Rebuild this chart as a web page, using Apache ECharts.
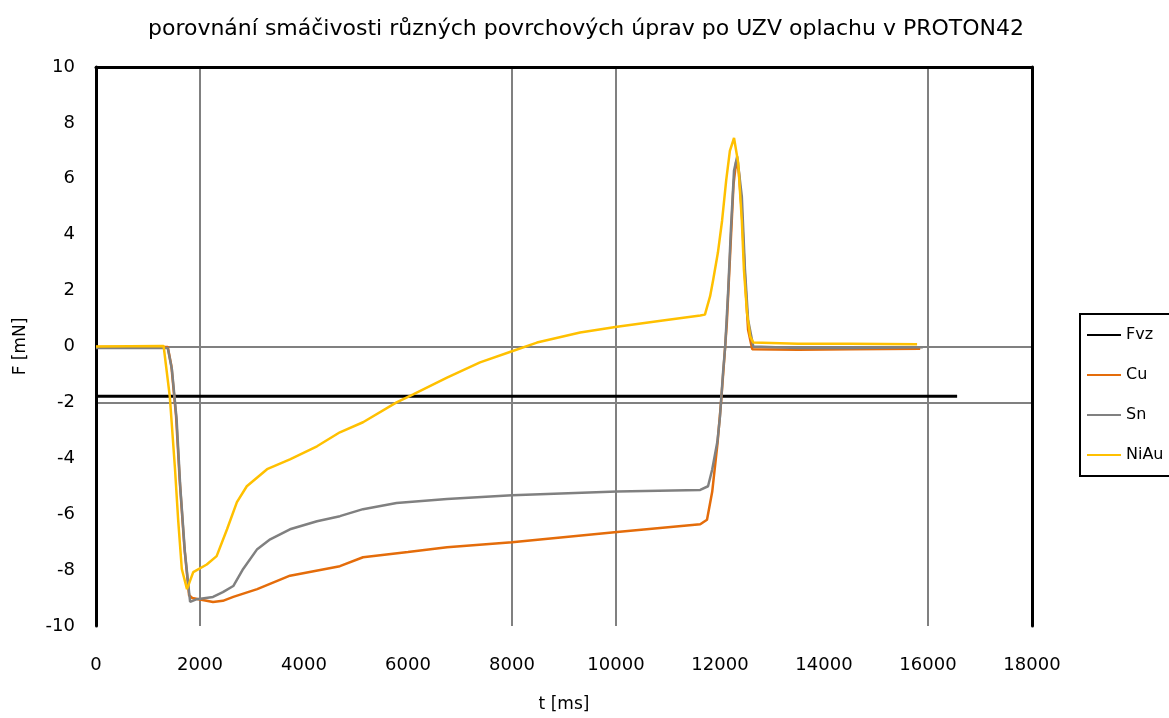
<!DOCTYPE html>
<html>
<head>
<meta charset="utf-8">
<title>porovnání smáčivosti</title>
<script src="https://cdn.jsdelivr.net/npm/echarts@6/dist/echarts.min.js"></script>
<style>
  html, body { margin: 0; padding: 0; background: #fff; }
  #chart { width: 1169px; height: 718px; }
</style>
</head>
<body>
<div id="chart"></div>
<script>
// values (t in ms, F in mN)
var fvzT = [0, 16560]
var fvzF = [-1.78, -1.78]

var cuT = [0, 1380, 1450, 1540, 1610, 1700, 1790, 1850, 2000, 2250, 2440, 2640, 3100, 3730, 4690, 5135, 6000, 6750, 8000, 10020, 11620, 11750, 11850, 11950, 12020, 12080, 12130, 12200, 12260, 12310, 12360, 12420, 12480, 12540, 12620, 13500, 14500, 15850]
var cuF = [-0.02, -0.02, -0.7, -2.5, -4.8, -7.2, -8.9, -9.0, -9.05, -9.14, -9.1, -8.96, -8.68, -8.2, -7.86, -7.54, -7.35, -7.18, -7.0, -6.64, -6.36, -6.2, -5.2, -3.5, -2.0, -0.5, 0.8, 3.5, 5.8, 6.6, 6.3, 4.8, 2.5, 0.6, -0.1, -0.12, -0.1, -0.08]

var snT = [0, 1380, 1460, 1550, 1620, 1710, 1810, 1940, 2250, 2440, 2640, 2830, 3100, 3350, 3730, 4250, 4690, 5135, 5780, 6750, 8000, 10020, 11620, 11770, 11850, 11950, 12000, 12060, 12100, 12160, 12210, 12270, 12330, 12420, 12480, 12540, 12640, 13500, 14500, 15900]
var snF = [-0.05, -0.05, -0.82, -2.6, -5.0, -7.36, -9.14, -9.04, -8.96, -8.79, -8.57, -7.96, -7.25, -6.9, -6.54, -6.25, -6.07, -5.82, -5.6, -5.46, -5.32, -5.19, -5.13, -5.0, -4.4, -3.4, -2.5, -0.9, 0, 2.1, 4.2, 6.3, 6.8, 5.36, 2.75, 0.96, 0, -0.05, -0.05, -0.03]

var niauT = [0, 1300, 1330, 1420, 1520, 1580, 1650, 1750, 1870, 2130, 2320, 2520, 2710, 2900, 3290, 3730, 4250, 4690, 5135, 5780, 6100, 6750, 7385, 8000, 8480, 9310, 10020, 10900, 11620, 11710, 11810, 11870, 11960, 12040, 12120, 12190, 12270, 12350, 12420, 12460, 12520, 12580, 12640, 13500, 14500, 15790]
var niauF = [0, 0.02, 0, -1.8, -4.4, -6.2, -7.96, -8.68, -8.07, -7.8, -7.5, -6.54, -5.57, -5.0, -4.39, -4.04, -3.57, -3.07, -2.71, -2.0, -1.71, -1.11, -0.57, -0.17, 0.14, 0.5, 0.71, 0.93, 1.11, 1.14, 1.8, 2.4, 3.36, 4.5, 5.96, 7.0, 7.46, 6.57, 4.5, 2.75, 1.2, 0.36, 0.14, 0.1, 0.1, 0.08]

var names = ['Fvz', 'Cu', 'Sn', 'NiAu']
var colors = ['#000000', '#E46C0A', '#808080', '#FFC000']

var font = 'DejaVu Sans'
var GRID = '#808080'
var NONE = 'rgba(0,0,0,0)'

function pairs (t, f) {
  return t.map(function (x, i) { return [x, f[i]] })
}

var chart = echarts.init(document.getElementById('chart'))

var option = {
  backgroundColor: '#fff',
  animation: false,
  title: {
    text: 'porovnání smáčivosti různých povrchových úprav po UZV oplachu v PROTON42',
    left: 581,
    top: 13,
    textAlign: 'center',
    textStyle: { fontFamily: font, fontSize: 22, fontWeight: 'normal', color: '#000' }
  },
  legend: {
    orient: 'vertical',
    left: 1080,
    top: 314,
    padding: [13, 60, 13, 6],
    itemWidth: 34,
    itemHeight: 14,
    itemGap: 24,
    borderColor: '#000',
    borderWidth: 2,
    itemStyle: { opacity: 0 },
    data: names,
    textStyle: { fontFamily: font, fontSize: 16, color: '#000' }
  },
  grid: { left: 96, right: 137, top: 67, bottom: 91 },
  xAxis: [{
    type: 'value',
    min: 0,
    max: 18000,
    interval: 2000,
    name: 't [ms]',
    nameLocation: 'middle',
    nameGap: 70,
    nameTextStyle: { fontFamily: font, fontSize: 17, color: '#000' },
    axisLine: { show: false },
    axisTick: { show: false },
    axisLabel: {
      margin: 30,
      fontFamily: font,
      fontSize: 18,
      color: '#000',
      formatter: function (v) { return String(v) }
    },
    splitLine: {
      show: true,
      lineStyle: {
        width: 2,
        color: [NONE, GRID, NONE, NONE, GRID, GRID, NONE, NONE, GRID, NONE]
      }
    }
  }, {
    type: 'value',
    position: 'top',
    min: 0,
    max: 18000,
    axisLine: { show: true, onZero: false, lineStyle: { color: '#000', width: 3 } },
    axisTick: { show: false },
    axisLabel: { show: false },
    splitLine: { show: false }
  }],
  yAxis: [{
    type: 'value',
    min: -10,
    max: 10,
    interval: 2,
    name: 'F [mN]',
    nameLocation: 'middle',
    nameGap: 67,
    nameTextStyle: { fontFamily: font, fontSize: 17, color: '#000' },
    axisLine: { show: true, onZero: false, lineStyle: { color: '#000', width: 3 } },
    axisTick: { show: false },
    axisLabel: { margin: 21, fontFamily: font, fontSize: 18, color: '#000' },
    splitLine: {
      show: true,
      lineStyle: {
        width: 2,
        color: [NONE, NONE, NONE, NONE, GRID, GRID, NONE, NONE, NONE, NONE, NONE]
      }
    }
  }, {
    type: 'value',
    position: 'right',
    min: -10,
    max: 10,
    axisLine: { show: true, onZero: false, lineStyle: { color: '#000', width: 3 } },
    axisTick: { show: false },
    axisLabel: { show: false },
    splitLine: { show: false }
  }],
  series: [
    {
      name: 'Fvz',
      type: 'line',
      symbol: 'none',
      color: colors[0],
      lineStyle: { width: 3, color: colors[0] },
      data: pairs(fvzT, fvzF)
    },
    {
      name: 'Cu',
      type: 'line',
      symbol: 'none',
      color: colors[1],
      lineStyle: { width: 2.5, color: colors[1] },
      data: pairs(cuT, cuF)
    },
    {
      name: 'Sn',
      type: 'line',
      symbol: 'none',
      color: colors[2],
      lineStyle: { width: 2.5, color: colors[2] },
      data: pairs(snT, snF)
    },
    {
      name: 'NiAu',
      type: 'line',
      symbol: 'none',
      color: colors[3],
      lineStyle: { width: 2.5, color: colors[3] },
      data: pairs(niauT, niauF)
    }
  ]
}

chart.setOption(option)
window.addEventListener('resize', function () {
  chart.resize()
})
</script>
</body>
</html>
